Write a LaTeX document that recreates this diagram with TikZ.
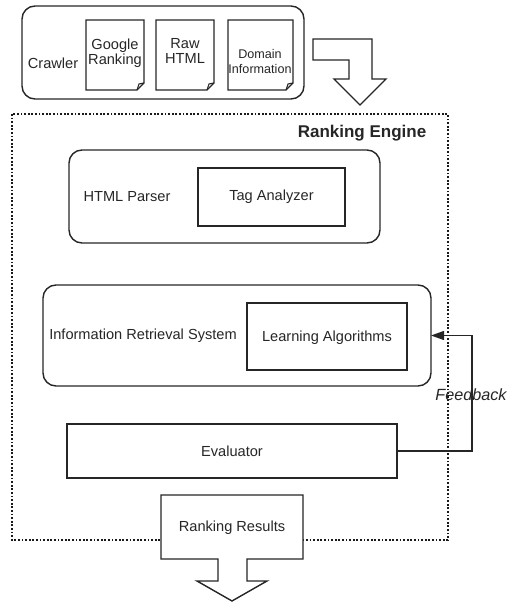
\documentclass[tikz,border=0pt]{standalone}
\usepackage{fontspec}
\setmainfont{Liberation Sans}
\usetikzlibrary{arrows.meta}
\begin{document}
\begin{tikzpicture}[x=1pt,y=-1pt,
  line width=1.4pt, draw=black!85, line join=miter,
  txt/.style={font=\fontsize{14.6}{15.5}\selectfont, text=black!85, inner sep=0pt, align=center},
  smalltxt/.style={font=\fontsize{12.6}{15}\selectfont, text=black!85, inner sep=0pt, align=center},
  roundbox/.style={draw, rounded corners=13pt, inner sep=0pt, outer sep=0pt},
  plainbox/.style={draw, inner sep=0pt, outer sep=0pt},
  hollowarrow/.style={draw, fill=white, line join=miter},
  engine/.style={draw=black!90, line width=1.8pt, dash pattern=on 1.8pt off 1.8pt},
  fb/.style={draw, line width=1.2pt, -{Triangle[length=13pt,width=9pt]}}
]
\useasboundingbox (0,0) rectangle (508,602);

% crawler container and its documents
\node[roundbox, minimum width=282pt, minimum height=93pt] (crawler) at (163,52.5) {};
\node[txt] (crawlerlbl) at (53,63) {Crawler};

\newcommand{\docshape}[4]{% x1,y1,x2,y2
  \draw (#1,#2) -- (#3,#2) -- (#3,#4-7) -- (#3-7,#4) -- (#1,#4) -- cycle;
  \draw[line width=1.1pt] (#3,#4-7) -- (#3-5,#4-6) -- (#3-7,#4);
}
\docshape{86}{20}{144}{90}
\docshape{156}{20}{214}{90}
\docshape{228}{20}{293}{90}
\node[txt] (google) at (115,53) {Google\\Ranking};
\node[txt] (rawhtml) at (185,51) {Raw\\HTML};
\node[smalltxt] (domain) at (260,61) {Domain\\Information};

% bent hollow arrow from the crawler into the engine
\draw[hollowarrow] (313,39) -- (372,39) -- (372,79) -- (386,79) -- (360,105)
  -- (334,79) -- (349,79) -- (349,60) -- (313,60) -- cycle;

% ranking engine frame
\draw[engine] (12,114) rectangle (448,540);
\node[font=\fontsize{17}{18}\selectfont\bfseries, text=black!85, inner sep=0pt] (enginelbl) at (362,133) {Ranking Engine};

% HTML parser
\node[roundbox, minimum width=311pt, minimum height=93pt] (parser) at (224.5,196.5) {};
\node[txt] (parserlbl) at (127,197) {HTML Parser};
\node[plainbox, minimum width=147pt, minimum height=58pt] (tag) at (271.5,197) {};
\node[txt] at (tag.center) {Tag Analyzer};

% information retrieval system
\node[roundbox, minimum width=388pt, minimum height=101pt] (ir) at (237,335.5) {};
\node[txt] (irlbl) at (143,336) {Information Retrieval System};
\node[plainbox, minimum width=160pt, minimum height=67pt] (learn) at (327,336.5) {};
\node[txt] at (327,338) {Learning Algorithms};

% evaluator
\node[plainbox, minimum width=330pt, minimum height=54pt] (eval) at (232,451) {};
\node[txt] at (eval.center) {Evaluator};

% feedback loop
\draw[fb] (eval.east) -- ++(75,0) |- (ir.east);
\node[font=\fontsize{16.2}{17}\selectfont\itshape, text=black!85, inner sep=0pt] (fblbl) at (471,395) {Feedback};

% ranking results output arrow
\draw[hollowarrow] (161,495) -- (303,495) -- (303,559) -- (247,559) -- (247,581)
  -- (267,581) -- (232,601) -- (197,581) -- (218,581) -- (218,559) -- (161,559) -- cycle;
\node[txt] (results) at (232,528) {Ranking Results};
\end{tikzpicture}
\end{document}
